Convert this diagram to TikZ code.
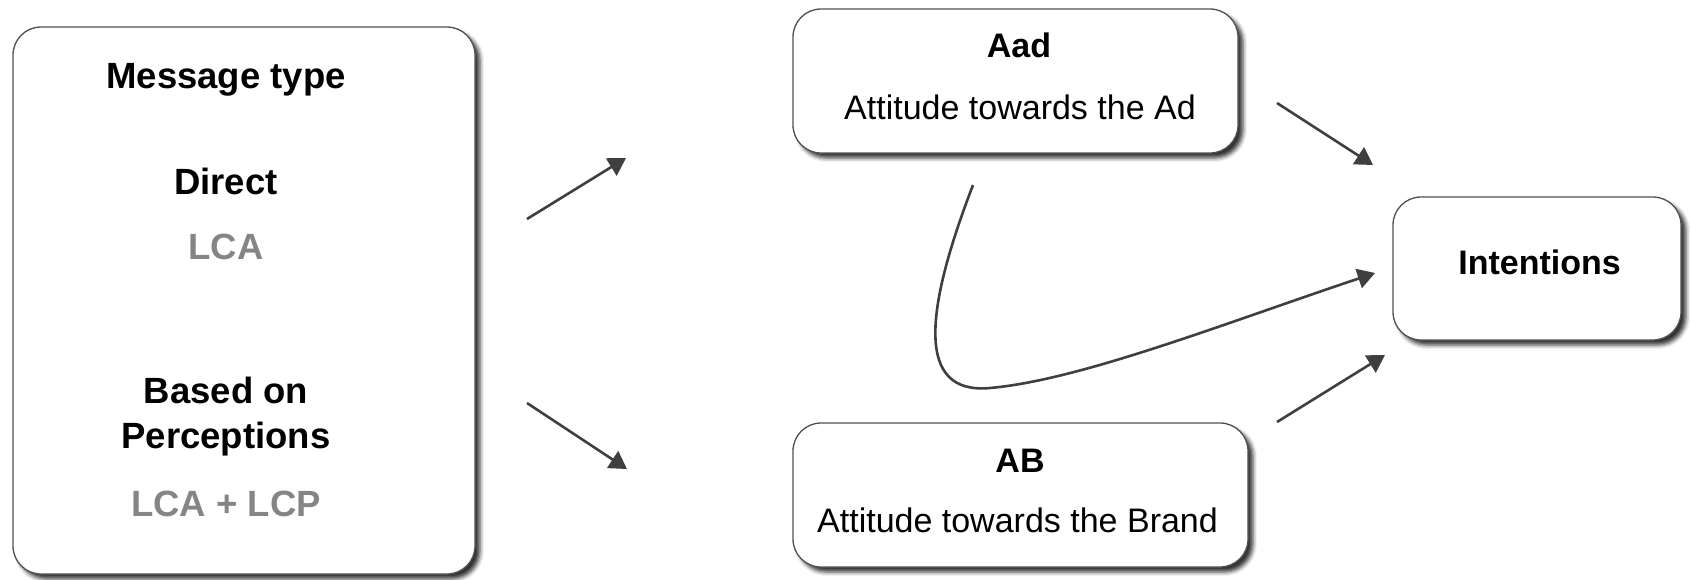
\documentclass[tikz,border=0pt]{standalone}
\usepackage{fontspec}
\setmainfont{Liberation Sans}
\usepackage{tikz}
\usetikzlibrary{
	arrows.meta,
	positioning,
	shadows.blur
}

\definecolor{edgegray}{HTML}{505050}
\definecolor{arrowgray}{HTML}{3F3F3F}
\definecolor{codegray}{HTML}{858585}

\begin{document}
\begin{tikzpicture}[
				x=1pt, y=-1pt,
				panel/.style={
					rectangle, draw=edgegray, line width=1.3pt,
					rounded corners=28pt, fill=white, inner sep=0pt,
					blur shadow={shadow xshift=5pt, shadow yshift=-5pt,
						shadow blur radius=4pt, shadow opacity=80}
				},
				bigtitle/.style={
					anchor=base, font=\fontsize{36.5}{44}\selectfont\bfseries
				},
				bigcode/.style={
					bigtitle, text=codegray
				},
				title/.style={
					anchor=base, font=\fontsize{34}{40}\selectfont\bfseries
				},
				caption/.style={
					anchor=base, font=\fontsize{34}{40}\selectfont
				},
				arrow/.style={-{Triangle[length=17.3pt, width=20pt]}, line width=2.6pt, arrowgray}
				]
				
				\useasboundingbox (0,0) rectangle (1690,579);
				
				% message type
				\node[panel, minimum width=462pt, minimum height=547pt] (msg) at (244,300.5) {};
				\node[bigtitle] (msgTitle) at (226,88.5) {Message type};
				\node[bigtitle] (direct) at (226,194) {Direct};
				\node[bigcode] (directCode) at (226,259.5) {LCA};
				\node[bigtitle] (based) at (226,403) {Based on};
				\node[bigtitle] (perceptions) at (226,448.5) {Perceptions};
				\node[bigcode] (perceptionsCode) at (226,516) {LCA + LCP};
				
				% Aad
				\node[panel, minimum width=445pt, minimum height=144pt] (aad) at (1015.5,81) {};
				\node[title] (aadTitle) at (1019,57) {Aad};
				\node[caption] (aadText) at (1020,119) {Attitude towards the Ad};
				
				% AB
				\node[panel, minimum width=455pt, minimum height=144pt] (ab) at (1020.5,495) {};
				\node[title] (abTitle) at (1020,472) {AB};
				\node[caption] (abText) at (1017.5,532) {Attitude towards the Brand};
				
				% intentions
				\node[panel, minimum width=288pt, minimum height=143pt] (intent) at (1537,268.5) {};
				\node[title] (intentText) at (1539.5,274) {Intentions};
				
				% loose arrow ends
				\coordinate (msgUp) at (527,219);
				\coordinate (aadIn) at (626,158);
				\coordinate (msgDown) at (527,403);
				\coordinate (abIn) at (627,469);
				\coordinate (aadOut) at (1277,103);
				\coordinate (intentTop) at (1373,165);
				\coordinate (abOut) at (1277,422);
				\coordinate (intentLow) at (1385,355);
				\coordinate (aadBend) at (973,185);
				\coordinate (bendLow) at (990,388);
				\coordinate (intentMid) at (1375,273);
				
				% arrows
				\draw[arrow] (msgUp) -- (aadIn);
				\draw[arrow] (msgDown) -- (abIn);
				\draw[arrow] (aadOut) -- (intentTop);
				\draw[arrow] (abOut) -- (intentLow);
				\draw[arrow] (aadBend) .. controls (925,310) and (915,395) .. (bendLow)
					.. controls (1080,380) and (1220,325) .. (intentMid);
			\end{tikzpicture}
\end{document}
